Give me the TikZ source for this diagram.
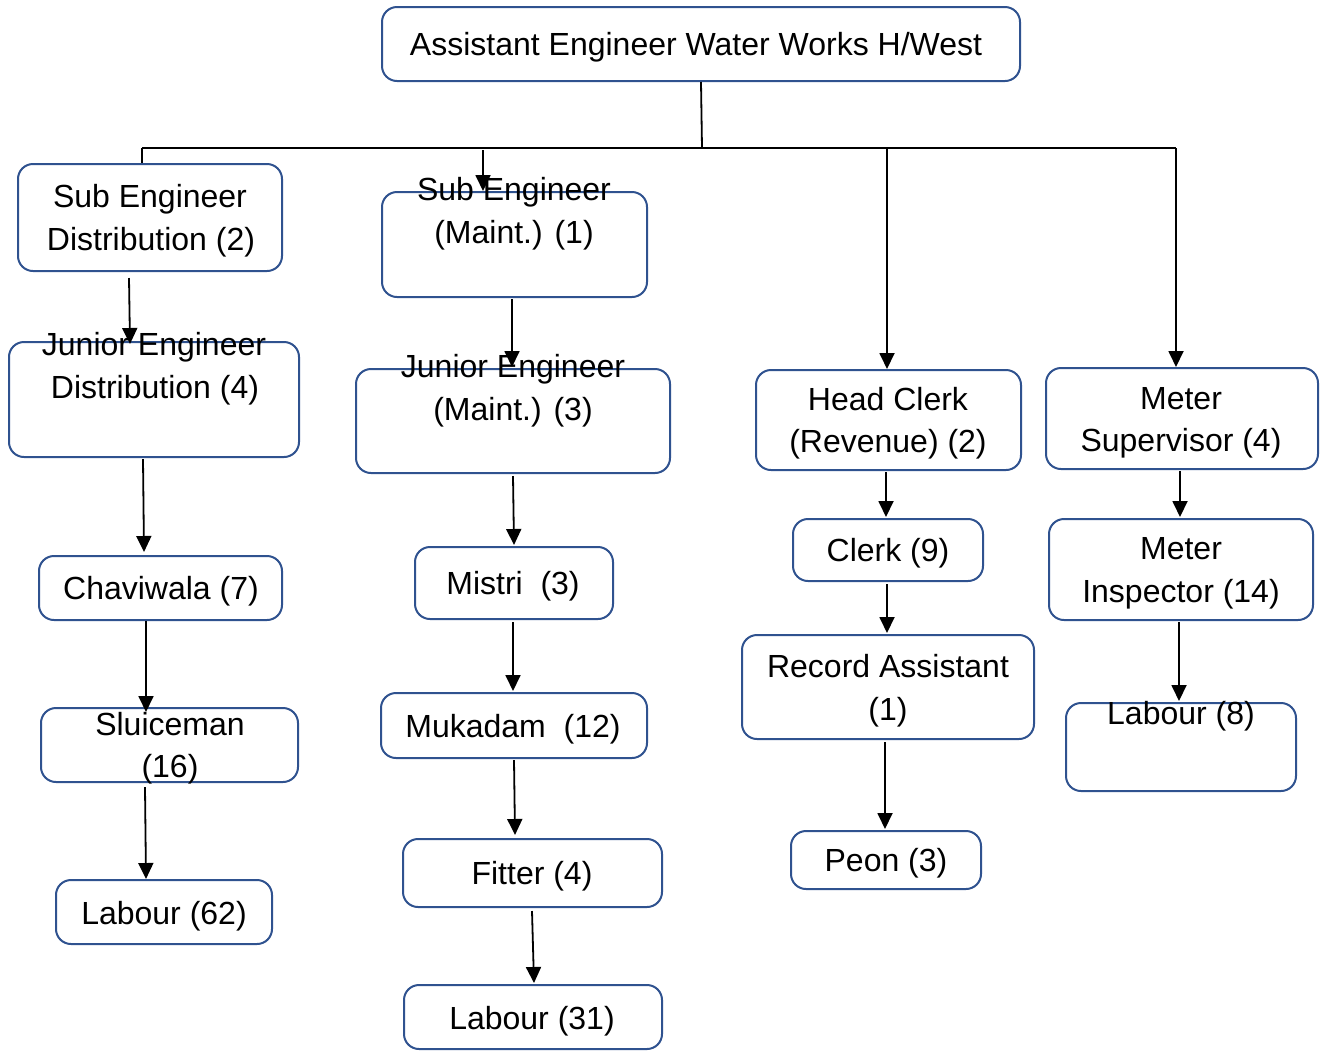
\documentclass[tikz,border=0pt]{standalone}
\usepackage{fontspec}
\setmainfont{Liberation Sans}
\usetikzlibrary{arrows.meta}
\definecolor{boxblue}{RGB}{47,82,143}
\newcommand\mybox[5]{\node[box,minimum width={(#4-#2)*0.5pt},minimum height={(#5-#3)*0.5pt}] (#1) at ({(#2+#4)/2},{(#3+#5)/2}) {};}
\newcommand\myline[4]{\node[lbl] (#1) at (#2,#3+11) {#4};}
\begin{document}
\begin{tikzpicture}[x=0.5pt,y=-0.5pt,
  box/.style={draw=boxblue,line width=1pt,rounded corners=7.5pt,inner sep=0pt},
  lbl/.style={anchor=base,inner sep=0pt,font=\fontsize{16}{19}\selectfont},
  arr/.style={draw=black,line width=0.9pt,-{Triangle[length=8pt,width=7.5pt]}},
  ln/.style={draw=black,line width=0.9pt}]
\useasboundingbox (0,0) rectangle (1322,1051);
% boxes
\mybox{top}{382}{7}{1020}{81}
\mybox{sed}{18}{164}{282}{271}
\mybox{sem}{382}{192}{647}{297}
\mybox{jed}{9}{342}{299}{457}
\mybox{jem}{356}{369}{670}{473}
\mybox{hc}{756}{370}{1021}{470}
\mybox{ms}{1046}{368}{1318}{469}
\mybox{chv}{39}{556}{282}{620}
\mybox{mis}{415}{547}{613}{619}
\mybox{clk}{793}{519}{983}{581}
\mybox{mi}{1049}{519}{1313}{620}
\mybox{slu}{41}{708}{298}{782}
\mybox{muk}{381}{693}{647}{758}
\mybox{ra}{742}{635}{1034}{739}
\mybox{lab8}{1066}{703}{1296}{791}
\mybox{lab62}{56}{880}{272}{944}
\mybox{fit}{403}{839}{662}{907}
\mybox{peon}{791}{831}{981}{889}
\mybox{lab31}{404}{985}{662}{1049}
% texts
\myline{topt}{696}{44}{Assistant Engineer Water Works H/West}
\myline{sedt1}{150}{196}{Sub Engineer}
\myline{sedt2}{151}{239}{Distribution (2)}
\myline{semt1}{514}{189}{Sub Engineer}
\myline{semt2}{514}{232}{(Maint.) (1)}
\myline{jedt1}{154}{344}{Junior Engineer}
\myline{jedt2}{155}{387}{Distribution (4)}
\myline{jemt1}{513}{366}{Junior Engineer}
\myline{jemt2}{513}{409}{(Maint.) (3)}
\myline{hct1}{888}{399}{Head Clerk}
\myline{hct2}{888}{441}{(Revenue) (2)}
\myline{mst1}{1181}{398}{Meter}
\myline{mst2}{1181}{440}{Supervisor (4)}
\myline{chvt}{161}{588}{Chaviwala (7)}
\myline{mist}{513}{583}{Mistri\ \ (3)}
\myline{clkt}{888}{550}{Clerk (9)}
\myline{mit1}{1181}{548}{Meter}
\myline{mit2}{1181}{591}{Inspector (14)}
\myline{slut1}{170}{724}{Sluiceman}
\myline{slut2}{170}{766}{(16)}
\myline{mukt}{513}{726}{Mukadam\ \ (12)}
\myline{rat1}{888}{666}{Record Assistant}
\myline{rat2}{888}{709}{(1)}
\myline{lab8t}{1181}{713}{Labour (8)}
\myline{lab62t}{164}{913}{Labour (62)}
\myline{fitt}{532}{873}{Fitter (4)}
\myline{peont}{886}{860}{Peon (3)}
\myline{lab31t}{532}{1018}{Labour (31)}
% bus
\coordinate (bus) at (702,148);
\coordinate (busL) at (142,148);
\coordinate (busR) at (1176,148);
\coordinate (b2) at (483,150);
\coordinate (b3) at (887,148);
\draw[ln] (top.south) -- (bus);
\draw[ln] (busL) -- (busR);
\draw[ln] (busL) -- (busL |- sed.north);
\draw[arr] (b2) -- (b2 |- sem.north);
\draw[arr] (b3) -- (b3 |- hc.north);
\draw[arr] (busR) -- (busR |- ms.north);
% arrows
\draw[arr] ([xshift=-10.5pt,yshift=-3pt]sed.south) -- ([xshift=-12pt,yshift=-1.5pt]jed.north);
\draw[arr] ([xshift=-1.25pt,yshift=-0.5pt]sem.south) -- ([xshift=-0.5pt,yshift=0.5pt]jem.north);
\draw[arr] ([xshift=-5.5pt,yshift=-0.5pt]jed.south) -- ([xshift=-8.25pt,yshift=1.5pt]chv.north);
\draw[arr] ([xshift=-7.25pt]chv.south) -- ([xshift=-11.75pt,yshift=-2.5pt]slu.north);
\draw[arr] ([xshift=-12.25pt,yshift=-2pt]slu.south) -- ([xshift=-9pt]lab62.north);
\draw[arr] ([xshift=0pt,yshift=-1pt]jem.south) -- ([xshift=0pt,yshift=0.5pt]mis.north);
\draw[arr] ([xshift=-0.5pt,yshift=-1pt]mis.south) -- ([xshift=-0.5pt,yshift=0.5pt]muk.north);
\draw[arr] ([xshift=0pt,yshift=-0.5pt]muk.south) -- ([xshift=-8.75pt,yshift=1.5pt]fit.north);
\draw[arr] ([xshift=-0.25pt,yshift=-1.5pt]fit.south) -- ([xshift=0.5pt,yshift=0.5pt]lab31.north);
\draw[arr] ([xshift=-1.25pt,yshift=-0.5pt]hc.south) -- ([xshift=-1pt,yshift=0.5pt]clk.north);
\draw[arr] ([xshift=-0.5pt,yshift=-1pt]clk.south) -- ([xshift=-0.5pt,yshift=0.5pt]ra.north);
\draw[arr] ([xshift=-1.5pt,yshift=-1pt]ra.south) -- ([xshift=-0.5pt,yshift=0.5pt]peon.north);
\draw[arr] ([xshift=-1pt,yshift=-0.5pt]ms.south) -- ([xshift=-0.5pt,yshift=0.5pt]mi.north);
\draw[arr] ([xshift=-1pt,yshift=-0.5pt]mi.south) -- ([xshift=-1pt,yshift=0.5pt]lab8.north);
\end{tikzpicture}
\end{document}
